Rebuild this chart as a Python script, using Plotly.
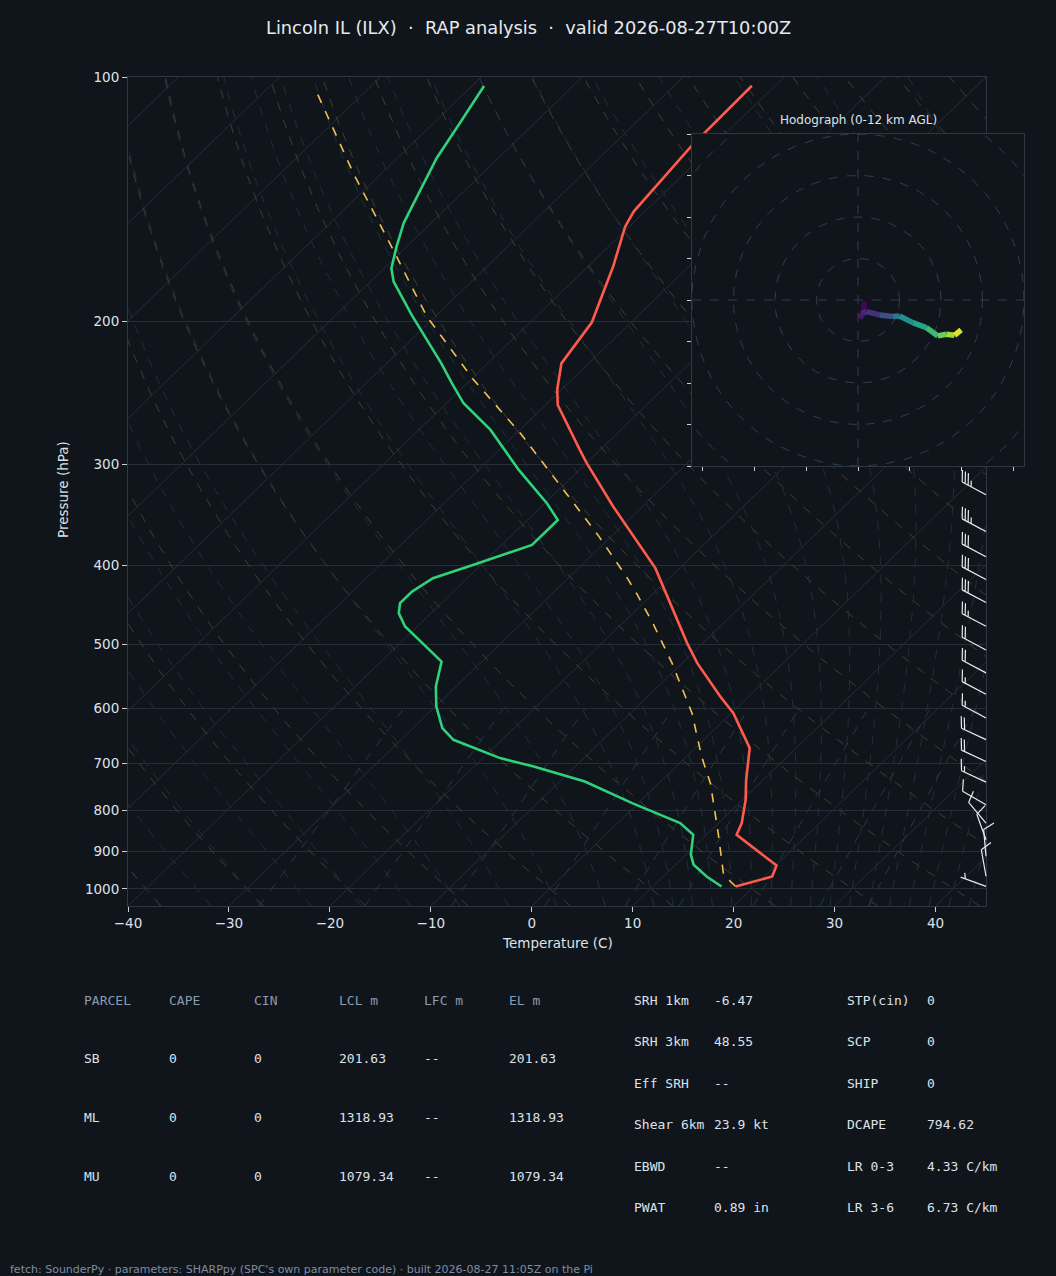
import numpy as np
import plotly.graph_objects as go
from plotly.colors import sample_colorscale

title_text = "Lincoln IL (ILX)  ·  RAP analysis  ·  valid 2026-08-27T10:00Z"
footer_text = ("fetch: SounderPy · parameters: SHARPpy (SPC's own parameter code) · "
               "built 2026-08-27 11:05Z on the Pi")

# temperature profile (hPa, degC)
temp_p = [993.5, 965.7, 936.1, 858.1, 829.9, 777.0, 734.1, 670.9, 607.6, 579.7,
          527.3, 497.8, 402.7, 338.1, 298.8, 288.0, 253.5, 242.9, 225.3, 200.5,
          171.2, 152.9, 146.5, 121.6, 102.5]
temp_c = [18.2, 20.8, 20.1, 13.0, 12.3, 10.3, 8.3, 5.4, 0.2, -2.8,
          -8.5, -11.6, -22.4, -32.9, -40.0, -42.0, -48.8, -50.4, -52.7, -53.9,
          -57.5, -60.4, -61.1, -62.1, -62.3]

# dewpoint profile
dwpt_p = [993.5, 965.7, 933.9, 907.8, 858.1, 829.9, 784.3, 737.7, 707.0, 690.3,
          655.3, 633.9, 596.4, 563.5, 524.9, 475.3, 457.6, 444.8, 430.4, 414.4,
          399.1, 377.0, 351.3, 335.0, 304.8, 272.1, 252.3, 238.4, 225.3, 196.4,
          178.7, 172.0, 161.8, 151.4, 145.8, 125.9, 114.0, 102.6]
dwpt_c = [16.8, 14.3, 11.8, 10.5, 8.7, 6.2, -0.6, -7.5, -14.1, -18.3,
          -24.8, -27.1, -29.9, -32.0, -34.0, -41.2, -43.2, -44.1, -44.1, -43.4,
          -40.8, -37.0, -37.0, -39.8, -46.0, -52.9, -58.3, -61.5, -64.6, -72.5,
          -77.7, -79.3, -81.0, -82.7, -83.4, -86.1, -87.4, -88.8]

# surface-based parcel
parcel_p = [993.5, 961.0, 854.0, 741.1, 687.2, 607.6, 527.3, 470.8, 432.4, 412.5,
            366.5, 310.7, 274.7, 236.1, 197.4, 163.3, 131.4, 103.3]
parcel_c = [18.2, 15.8, 11.0, 5.1, 1.5, -3.9, -11.0, -17.0, -21.7, -24.4,
            -31.5, -41.9, -49.6, -59.7, -70.8, -81.0, -92.8, -105.3]

# wind barbs (hPa, kt, direction from)
barb_p = [993, 965, 912, 870, 830, 788, 739, 697, 655, 616,
          576, 542, 508, 475, 444, 416, 390, 363, 327]
barb_spd = [5, 10, 10, 10, 10, 10, 15, 20, 20, 15,
            15, 20, 20, 25, 30, 30, 30, 35, 35]
barb_dir = [290, 350, 355, 340, 320, 300, 295, 295, 295, 298,
            298, 298, 298, 298, 298, 298, 298, 298, 298]

# hodograph 0-12 km (kt, km AGL)
hodo_u = [2.9, 2.9, 0.8, 1.6, 4.0, 10.4, 16.8, 20.0, 26.4, 32.9, 38.5, 42.5, 46.5, 49.7]
hodo_v = [-0.8, -6.4, -8.8, -6.4, -5.6, -7.2, -8.0, -7.7, -10.9, -13.3, -17.3, -16.5, -17.0, -14.4]
hodo_z = [0.0, 0.3, 0.6, 1.0, 1.5, 2.0, 4.0, 5.5, 6.5, 7.5, 8.8, 9.8, 10.8, 12.0]

# parameter table
parcel_cols = ["PARCEL", "CAPE", "CIN", "LCL m", "LFC m", "EL m"]
parcel_rows = [["SB", "0", "0", "201.63", "--", "201.63"],
               ["ML", "0", "0", "1318.93", "--", "1318.93"],
               ["MU", "0", "0", "1079.34", "--", "1079.34"]]
kin_names = ["SRH 1km", "SRH 3km", "Eff SRH", "Shear 6km", "EBWD", "PWAT"]
kin_vals = ["-6.47", "48.55", "--", "23.9 kt", "--", "0.89 in"]
thermo_names = ["STP(cin)", "SCP", "SHIP", "DCAPE", "LR 0-3", "LR 3-6"]
thermo_vals = ["0", "0", "0", "794.62", "4.33 C/km", "6.73 C/km"]

BG = "#10151c"
FRAME = "#2d3845"
TXT = "#dde2e8"
W, H = 1056, 1276
P_BOT, P_TOP = 1050.0, 100.0
T_MIN, T_MAX = -40.0, 45.0


def px(x):
    return x / W


def py(y):
    return 1 - y / H


def skew(p):
    p = np.asarray(p, dtype=float)
    return (T_MAX - T_MIN) * (np.log10(P_BOT) - np.log10(p)) / (np.log10(P_BOT) - np.log10(P_TOP))


def sx(t, p):
    return np.asarray(t, dtype=float) + skew(p)


def moist_lapse(t0c, pres):
    # integrate pseudo-adiabat from 1000 hPa
    Rd, Cp, Lv, eps = 287.04, 1005.7, 2.501e6, 0.622

    def dtdp(t, p):
        es = 6.112 * np.exp(17.67 * (t - 273.15) / (t - 29.65))
        rs = eps * es / (p - es)
        return (Rd * t + Lv * rs) / (p * (Cp + Lv ** 2 * rs * eps / (Rd * t ** 2)))

    out = [t0c + 273.15]
    for i in range(1, len(pres)):
        p0, p1 = pres[i - 1], pres[i]
        h = p1 - p0
        t = out[-1]
        k1 = dtdp(t, p0)
        k2 = dtdp(t + h * k1 / 2, p0 + h / 2)
        k3 = dtdp(t + h * k2 / 2, p0 + h / 2)
        k4 = dtdp(t + h * k3, p1)
        out.append(t + h * (k1 + 2 * k2 + 2 * k3 + k4) / 6)
    return np.array(out) - 273.15


def add_lines(fig, xs_list, ys_list, color, dash, width=1.0):
    xs, ys = [], []
    for a, b in zip(xs_list, ys_list):
        xs += list(a) + [None]
        ys += list(b) + [None]
    fig.add_trace(go.Scatter(x=xs, y=ys, mode="lines", hoverinfo="skip", showlegend=False,
                             line=dict(color=color, width=width, dash=dash)))


def barb_path(spd, wdir, L=27.0):
    th = np.deg2rad(wdir)
    d = np.array([np.sin(th), np.cos(th)])
    n = np.array([d[1], -d[0]])
    spd5 = int(5 * round(spd / 5.0))
    flags, rem = divmod(spd5, 50)
    full, rem = divmod(rem, 10)
    half = rem >= 5
    sp, fh = 0.125 * L, 0.4 * L
    tip = L * d
    segs = ["M0,0 L%.2f,%.2f" % (tip[0], tip[1])]
    off = 0.0
    for _ in range(flags):
        a = tip - off * d
        b = a + fh * n - 0.25 * L * d
        c = tip - (off + 0.25 * L) * d
        segs.append("M%.2f,%.2f L%.2f,%.2f L%.2f,%.2f" % (a[0], a[1], b[0], b[1], c[0], c[1]))
        off += 0.25 * L + sp
    for _ in range(full):
        a = tip - off * d
        b = a + fh * n + fh / 2 * d
        segs.append("M%.2f,%.2f L%.2f,%.2f" % (a[0], a[1], b[0], b[1]))
        off += sp
    if half:
        if off == 0:
            off += 1.5 * sp
        a = tip - off * d
        b = a + fh / 2 * n + fh / 4 * d
        segs.append("M%.2f,%.2f L%.2f,%.2f" % (a[0], a[1], b[0], b[1]))
    return " ".join(segs)


fig = go.Figure()

# background thermodynamic lines
p_full = np.geomspace(P_BOT, P_TOP, 90)
iso_t = np.arange(-130, 50, 10)
add_lines(fig, [[t, t + skew(P_TOP)] for t in iso_t], [[P_BOT, P_TOP]] * len(iso_t),
          "#252e39", "solid", 1.0)

dry_x, dry_y = [], []
for th in range(-40, 201, 10):
    t = (th + 273.15) * (p_full / 1000.0) ** 0.2857 - 273.15
    dry_x.append(sx(t, p_full))
    dry_y.append(p_full)
add_lines(fig, dry_x, dry_y, "#453b30", "dash", 1.0)

p_up = np.linspace(1000, 100, 181)
p_dn = np.linspace(1000, 1050, 11)
moist_x, moist_y = [], []
for t0 in np.concatenate((np.arange(-50, 10.1, 5), np.arange(12, 45.1, 2))):
    tu = moist_lapse(t0, p_up)
    td = moist_lapse(t0, p_dn)
    pp = np.concatenate((p_dn[::-1], p_up[1:]))
    tt = np.concatenate((td[::-1], tu[1:]))
    moist_x.append(sx(tt, pp))
    moist_y.append(pp)
add_lines(fig, moist_x, moist_y, "#1d303c", "dash", 1.0)

p_mix = np.linspace(P_BOT, 600, 20)
mix_x, mix_y = [], []
for w in [0.0004, 0.001, 0.002, 0.004, 0.007, 0.01, 0.016, 0.024, 0.032]:
    e = w * p_mix / (0.622 + w)
    a = np.log(e / 6.112)
    tdw = 243.5 * a / (17.67 - a)
    mix_x.append(sx(tdw, p_mix))
    mix_y.append(p_mix)
add_lines(fig, mix_x, mix_y, "#22394a", "dash", 1.0)

# sounding
fig.add_trace(go.Scatter(x=sx(parcel_c, parcel_p), y=parcel_p, mode="lines", showlegend=False,
                         line=dict(color="#f2c14e", width=1.6, dash="dash")))
fig.add_trace(go.Scatter(x=sx(dwpt_c, dwpt_p), y=dwpt_p, mode="lines", showlegend=False,
                         line=dict(color="#2fd27a", width=2.6)))
fig.add_trace(go.Scatter(x=sx(temp_c, temp_p), y=temp_p, mode="lines", showlegend=False,
                         line=dict(color="#ff5b4c", width=2.6)))

# hodograph inset
ang = np.linspace(0, 2 * np.pi, 181)
ring_x, ring_y = [], []
for r in [20, 40, 60, 80, 100]:
    ring_x.append(r * np.cos(ang))
    ring_y.append(r * np.sin(ang))
ring_x += [[-80, 80], [0, 0]]
ring_y += [[0, 0], [-80, 80]]
xs, ys = [], []
for a, b in zip(ring_x, ring_y):
    xs += list(a) + [None]
    ys += list(b) + [None]
fig.add_trace(go.Scatter(x=xs, y=ys, xaxis="x2", yaxis="y2", mode="lines", hoverinfo="skip",
                         showlegend=False, line=dict(color="#323d4b", width=1, dash="dash")))

zmid = [(hodo_z[i] + hodo_z[i + 1]) / 2 / 12.0 for i in range(len(hodo_z) - 1)]
seg_cols = sample_colorscale("Viridis", zmid)
for i in range(len(hodo_u) - 1):
    fig.add_trace(go.Scatter(x=hodo_u[i:i + 2], y=hodo_v[i:i + 2], xaxis="x2", yaxis="y2",
                             mode="lines", showlegend=False,
                             line=dict(color=seg_cols[i], width=5.5)))

# wind barbs at right edge
dom_x = [px(128), px(986)]
dom_y = [py(906), py(77)]
for p, s, d in zip(barb_p, barb_spd, barb_dir):
    fig.add_shape(type="path", xref="paper", yref="y", xsizemode="pixel", ysizemode="pixel",
                  xanchor=dom_x[1], yanchor=p, path=barb_path(s, d),
                  line=dict(color="#e8ecf0", width=1.2))

axis_common = dict(showline=True, mirror=True, linecolor=FRAME, linewidth=1, zeroline=False,
                   ticks="outside", ticklen=5, tickcolor="#c9cfd6", automargin=False,
                   tickfont=dict(size=13.5, color=TXT))
inset_common = dict(range=[-80, 80], showticklabels=False, showgrid=False, automargin=False,
                    showline=True, mirror=True, linecolor=FRAME, zeroline=False,
                    ticks="outside", ticklen=4, tickcolor="#c9cfd6")

fig.update_layout(
    template="none",
    width=W, height=H, autosize=False,
    margin=dict(l=0, r=0, t=0, b=0, pad=0),
    paper_bgcolor=BG, plot_bgcolor=BG,
    font=dict(family="DejaVu Sans", color=TXT),
    showlegend=False,
    xaxis=dict(domain=dom_x, range=[T_MIN, T_MAX], tickvals=list(range(-40, 41, 10)),
               showgrid=False, anchor="y", **axis_common),
    yaxis=dict(domain=dom_y, type="log", range=[np.log10(P_BOT), np.log10(P_TOP)],
               tickvals=list(range(100, 1001, 100)),
               ticktext=[str(v) for v in range(100, 1001, 100)],
               showgrid=True, gridcolor="#242d38", gridwidth=1, anchor="x", **axis_common),
    xaxis2=dict(domain=[px(692), px(1024)], anchor="y2",
                tickvals=list(range(-75, 76, 25)), **inset_common),
    yaxis2=dict(domain=[py(466), py(134)], anchor="x2",
                tickvals=list(range(-80, 81, 20)), **inset_common),
)

ann = []
ann.append(dict(x=px(528), y=py(27), text=title_text, font=dict(size=17.8, color="#e6e9ed")))
ann.append(dict(x=px(557), y=py(943), text="Temperature (C)", font=dict(size=13.5, color=TXT)))
ann.append(dict(x=px(63), y=py(490), text="Pressure (hPa)", textangle=-90,
                font=dict(size=13.5, color=TXT)))
ann.append(dict(x=px(858), y=py(120), text="Hodograph (0-12 km AGL)",
                font=dict(size=12, color=TXT)))

mono = "DejaVu Sans Mono"
col_x = [82, 167, 252, 337, 422, 507]
for cx, name in zip(col_x, parcel_cols):
    ann.append(dict(x=px(cx), y=py(1000), text=name, xanchor="left",
                    font=dict(family=mono, size=13, color="#8b9bb0")))
for ry, row in zip([1058, 1117, 1176], parcel_rows):
    for cx, val in zip(col_x, row):
        ann.append(dict(x=px(cx), y=py(ry), text=val, xanchor="left",
                        font=dict(family=mono, size=13, color=TXT)))
row_y = [1000, 1041, 1083, 1124, 1166, 1207]
for ry, nm, vl in zip(row_y, kin_names, kin_vals):
    ann.append(dict(x=px(632), y=py(ry), text=nm, xanchor="left",
                    font=dict(family=mono, size=13, color=TXT)))
    ann.append(dict(x=px(712), y=py(ry), text=vl, xanchor="left",
                    font=dict(family=mono, size=13, color=TXT)))
for ry, nm, vl in zip(row_y, thermo_names, thermo_vals):
    ann.append(dict(x=px(845), y=py(ry), text=nm, xanchor="left",
                    font=dict(family=mono, size=13, color=TXT)))
    ann.append(dict(x=px(925), y=py(ry), text=vl, xanchor="left",
                    font=dict(family=mono, size=13, color=TXT)))
ann.append(dict(x=px(8), y=py(1269), text=footer_text, xanchor="left",
                font=dict(size=11, color="#7d8da1")))

for a in ann:
    a.setdefault("xanchor", "center")
    a.update(xref="paper", yref="paper", yanchor="middle", showarrow=False)
fig.update_layout(annotations=ann)

fig.write_html("out.html", config={"displayModeBar": False},
               post_script="document.body.style.margin='0';document.body.style.overflow='hidden';")
